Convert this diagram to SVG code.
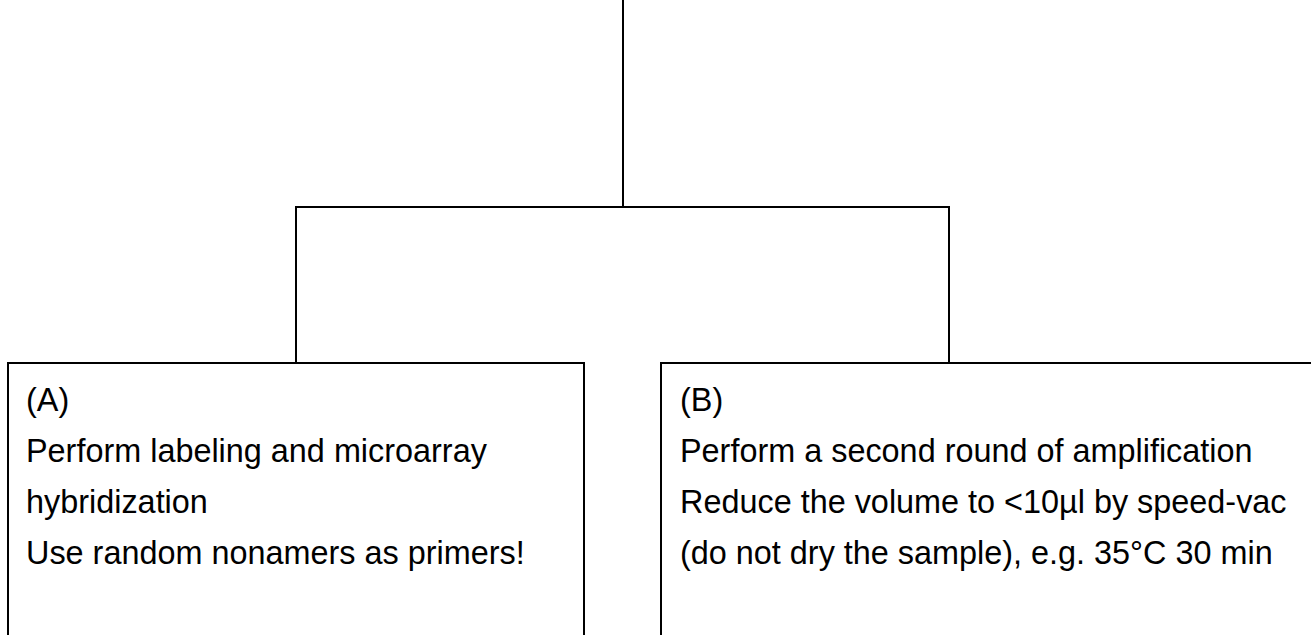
<svg xmlns="http://www.w3.org/2000/svg" width="1311" height="635" viewBox="0 0 1311 635">
<style>
.ln{fill:none;stroke:#000;stroke-width:2}
.bx{fill:#fff;stroke:#000;stroke-width:2}
.t{font-family:"Liberation Sans",Arial,Helvetica,sans-serif;font-size:32.4px;fill:#000}
</style>
<rect width="1311" height="635" fill="#fff"/>
<g id="connectors">
<path class="ln" d="M623,0 V207"/>
<path class="ln" d="M296,363 V207 H949 V363"/>
</g>
<g id="nodeA">
<rect class="bx" x="8" y="363" width="576" height="300"/>
<text class="t" x="26" y="411">(A)</text>
<text class="t" x="26" y="462">Perform labeling and microarray</text>
<text class="t" x="26" y="513">hybridization</text>
<text class="t" x="26" y="564">Use random nonamers as primers!</text>
</g>
<g id="nodeB">
<rect class="bx" x="661" y="363" width="700" height="300"/>
<text class="t" x="680" y="411">(B)</text>
<text class="t" x="680" y="462">Perform a second round of amplification</text>
<text class="t" x="680" y="513">Reduce the volume to &lt;10µl by speed-vac</text>
<text class="t" x="680" y="564">(do not dry the sample), e.g. 35°C 30 min</text>
</g>
</svg>
